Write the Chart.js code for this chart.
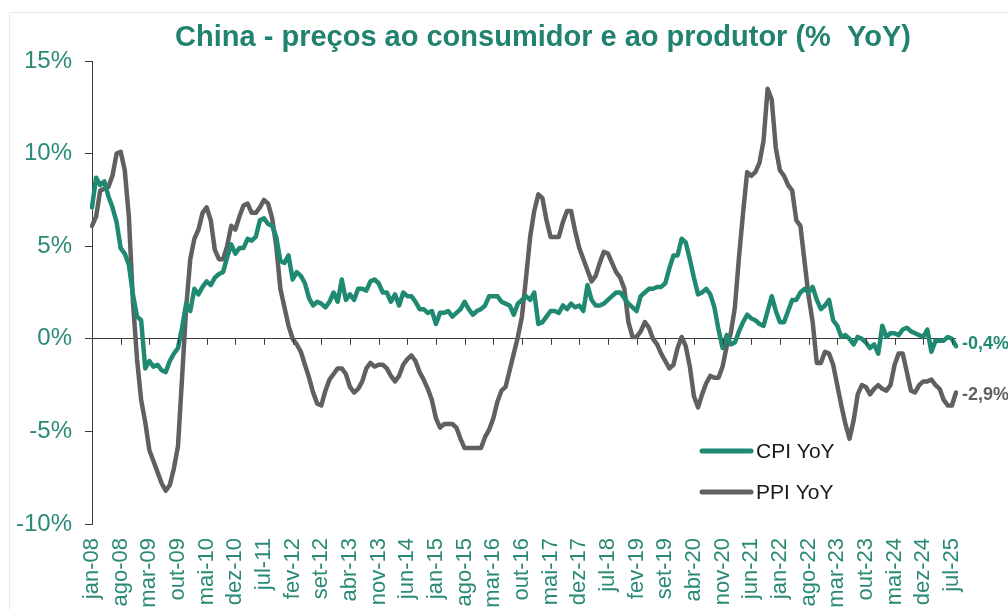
<!DOCTYPE html>
<html><head><meta charset="utf-8">
<script src="https://cdn.jsdelivr.net/npm/chart.js@4.4.0/dist/chart.umd.min.js"></script>
<style>
html,body{margin:0;padding:0;background:#fff;overflow:hidden}
#wrap{position:relative;width:1008px;height:610px;overflow:hidden}
#frame{position:absolute;left:9px;top:12px;width:1100px;height:700px;border:1px solid #e9eddc;box-sizing:border-box}
canvas{position:absolute;left:0;top:0}
</style></head><body>
<div id="wrap"><div id="frame"></div><canvas id="c" width="1008" height="610"></canvas></div>
<script>
const chartTitle = 'China - preços ao consumidor e ao produtor (%  YoY)';
const monthNames = ['jan','fev','mar','abr','mai','jun','jul','ago','set','out','nov','dez'];
const startYear = 2008;
const seriesNames = ['CPI YoY', 'PPI YoY'];
const yTicks = [-10, -5, 0, 5, 10, 15];
const labelEvery = 7;

// China CPI YoY (%), jan-08 .. ago-25
const cpiYoY = [
 7.1, 8.7, 8.3, 8.5, 7.7, 7.1, 6.3, 4.9, 4.6, 4.0, 2.4, 1.2,
 1.0,-1.6,-1.2,-1.5,-1.4,-1.7,-1.8,-1.2,-0.8,-0.5, 0.6, 1.9,
 1.5, 2.7, 2.4, 2.8, 3.1, 2.9, 3.3, 3.5, 3.6, 4.4, 5.1, 4.6,
 4.9, 4.9, 5.4, 5.3, 5.5, 6.4, 6.5, 6.2, 6.1, 5.5, 4.2, 4.1,
 4.5, 3.2, 3.6, 3.4, 3.0, 2.2, 1.8, 2.0, 1.9, 1.7, 2.0, 2.5,
 2.0, 3.2, 2.1, 2.4, 2.1, 2.7, 2.7, 2.6, 3.1, 3.2, 3.0, 2.5,
 2.5, 2.0, 2.4, 1.8, 2.5, 2.3, 2.3, 2.0, 1.6, 1.6, 1.4, 1.5,
 0.8, 1.4, 1.4, 1.5, 1.2, 1.4, 1.6, 2.0, 1.6, 1.3, 1.5, 1.6,
 1.8, 2.3, 2.3, 2.3, 2.0, 1.9, 1.8, 1.3, 1.9, 2.1, 2.3, 2.1,
 2.5, 0.8, 0.9, 1.2, 1.5, 1.5, 1.4, 1.8, 1.6, 1.9, 1.7, 1.8,
 1.5, 2.9, 2.1, 1.8, 1.8, 1.9, 2.1, 2.3, 2.5, 2.5, 2.2, 1.9,
 1.7, 1.5, 2.3, 2.5, 2.7, 2.7, 2.8, 2.8, 3.0, 3.8, 4.5, 4.5,
 5.4, 5.2, 4.3, 3.3, 2.4, 2.5, 2.7, 2.4, 1.7, 0.5,-0.5, 0.2,
-0.3,-0.2, 0.4, 0.9, 1.3, 1.1, 1.0, 0.8, 0.7, 1.5, 2.3, 1.5,
 0.9, 0.9, 1.5, 2.1, 2.1, 2.5, 2.7, 2.5, 2.8, 2.1, 1.6, 1.8,
 2.1, 1.0, 0.7, 0.1, 0.2, 0.0,-0.3, 0.1, 0.0,-0.2,-0.5,-0.3,
-0.8, 0.7, 0.1, 0.3, 0.3, 0.2, 0.5, 0.6, 0.4, 0.3, 0.2, 0.1,
 0.5,-0.7,-0.1,-0.1,-0.1, 0.1, 0.0,-0.4
];

// China PPI YoY (%), jan-08 .. ago-25
const ppiYoY = [
 6.1, 6.6, 8.0, 8.1, 8.2, 8.8,10.0,10.1, 9.1, 6.6, 2.0,-1.1,
-3.3,-4.5,-6.0,-6.6,-7.2,-7.8,-8.2,-7.9,-7.0,-5.8,-2.1, 1.7,
 4.3, 5.4, 5.9, 6.8, 7.1, 6.4, 4.8, 4.3, 4.3, 5.0, 6.1, 5.9,
 6.6, 7.2, 7.3, 6.8, 6.8, 7.1, 7.5, 7.3, 6.5, 5.0, 2.7, 1.7,
 0.7, 0.0,-0.3,-0.7,-1.4,-2.1,-2.9,-3.5,-3.6,-2.8,-2.2,-1.9,
-1.6,-1.6,-1.9,-2.6,-2.9,-2.7,-2.3,-1.6,-1.3,-1.5,-1.4,-1.4,
-1.6,-2.0,-2.3,-2.0,-1.4,-1.1,-0.9,-1.2,-1.8,-2.2,-2.7,-3.3,
-4.3,-4.8,-4.6,-4.6,-4.6,-4.8,-5.4,-5.9,-5.9,-5.9,-5.9,-5.9,
-5.3,-4.9,-4.3,-3.4,-2.8,-2.6,-1.7,-0.8, 0.1, 1.2, 3.3, 5.5,
 6.9, 7.8, 7.6, 6.4, 5.5, 5.5, 5.5, 6.3, 6.9, 6.9, 5.8, 4.9,
 4.3, 3.7, 3.1, 3.4, 4.1, 4.7, 4.6, 4.1, 3.6, 3.3, 2.7, 0.9,
 0.1, 0.1, 0.4, 0.9, 0.6, 0.0,-0.3,-0.8,-1.2,-1.6,-1.4,-0.5,
 0.1,-0.4,-1.5,-3.1,-3.7,-3.0,-2.4,-2.0,-2.1,-2.1,-1.5,-0.4,
 0.3, 1.7, 4.4, 6.8, 9.0, 8.8, 9.0, 9.5,10.7,13.5,12.9,10.3,
 9.1, 8.8, 8.3, 8.0, 6.4, 6.1, 4.2, 2.3, 0.9,-1.3,-1.3,-0.7,
-0.8,-1.4,-2.5,-3.6,-4.6,-5.4,-4.4,-3.0,-2.5,-2.6,-3.0,-2.7,
-2.5,-2.7,-2.8,-2.5,-1.4,-0.8,-0.8,-1.8,-2.8,-2.9,-2.5,-2.3,
-2.3,-2.2,-2.5,-2.7,-3.3,-3.6,-3.6,-2.9
];

const categories = cpiYoY.map((_, i) =>
  monthNames[i % 12] + '-' + String((startYear + Math.floor(i / 12)) % 100).padStart(2, '0'));

const TEAL = '#1f8a71';
const TEAL_TXT = '#2b8a77';
const GRAY = '#606060';
const AXIS = '#3a3a3a';
const FONT = '"Liberation Sans", Arial, sans-serif';

const overlay = {
  id: 'overlay',
  afterDraw(chart) {
    const ctx = chart.ctx;
    const xs = chart.scales.x, ys = chart.scales.y;
    const y0 = ys.getPixelForValue(0);
    ctx.save();
    // tick marks on the zero line
    ctx.strokeStyle = AXIS; ctx.lineWidth = 1;
    for (let i = 0; i < categories.length; i += labelEvery) {
      const x = Math.round(xs.getPixelForValue(i)) + 0.5;
      ctx.beginPath(); ctx.moveTo(x, y0); ctx.lineTo(x, y0 + 6); ctx.stroke();
    }
    // title
    ctx.fillStyle = '#20826f';
    ctx.font = 'bold 29px ' + FONT;
    ctx.textAlign = 'center'; ctx.textBaseline = 'alphabetic';
    ctx.fillText(chartTitle, 543, 46);
    // end labels
    ctx.font = 'bold 18px ' + FONT;
    ctx.textAlign = 'left'; ctx.textBaseline = 'middle';
    chart.data.datasets.forEach((ds, di) => {
      const meta = chart.getDatasetMeta(di);
      const pt = meta.data[meta.data.length - 1];
      const v = ds.data[ds.data.length - 1];
      ctx.fillStyle = ds.borderColor;
      ctx.fillText(v.toFixed(1).replace('.', ',') + '%', pt.x + 6, pt.y + (di === 0 ? -2 : 3));
    });
    // legend
    ctx.font = '21px ' + FONT;
    ctx.textBaseline = 'middle';
    const legY = [451, 492];
    chart.data.datasets.forEach((ds, di) => {
      ctx.strokeStyle = ds.borderColor; ctx.lineWidth = 5; ctx.lineCap = 'round';
      ctx.beginPath(); ctx.moveTo(702, legY[di]); ctx.lineTo(751, legY[di]); ctx.stroke();
      ctx.fillStyle = '#1a1a1a';
      ctx.fillText(ds.label, 756, legY[di] + 1);
    });
    ctx.restore();
  }
};

new Chart(document.getElementById('c'), {
  type: 'line',
  data: {
    labels: categories,
    datasets: [
      { label: seriesNames[0], data: cpiYoY, borderColor: TEAL, borderWidth: 4.5 },
      { label: seriesNames[1], data: ppiYoY, borderColor: GRAY, borderWidth: 4.5 }
    ]
  },
  options: {
    responsive: false,
    animation: false,
    events: [],
    layout: { padding: { left: 0, right: 52, top: 61, bottom: 0 } },
    elements: {
      point: { radius: 0 },
      line: { tension: 0, borderJoinStyle: 'round', borderCapStyle: 'round', fill: false }
    },
    plugins: { legend: { display: false }, title: { display: false }, tooltip: { enabled: false } },
    scales: {
      x: {
        type: 'category',
        offset: false,
        grid: { display: false, drawTicks: false },
        border: { display: false },
        ticks: {
          autoSkip: false, minRotation: 90, maxRotation: 90, padding: 14,
          color: TEAL_TXT, font: { family: FONT, size: 22 },
          callback: (v, i) => (i % labelEvery === 0 ? categories[i] : '')
        },
        afterFit: s => { s.height = 86; }
      },
      y: {
        min: yTicks[0], max: yTicks[yTicks.length - 1],
        afterBuildTicks: s => { s.ticks = yTicks.map(v => ({ value: v })); },
        grid: {
          drawOnChartArea: true, drawTicks: true, tickLength: 7,
          color: c => (c.tick && c.tick.value === 0 ? AXIS : 'rgba(0,0,0,0)'),
          tickColor: AXIS, lineWidth: 1
        },
        border: { display: true, color: AXIS, width: 1 },
        ticks: {
          padding: 13, color: TEAL_TXT, font: { family: FONT, size: 24 },
          callback: v => v + '%'
        },
        afterFit: s => { s.width = 92; }
      }
    }
  },
  plugins: [overlay]
});
</script>
</body></html>
